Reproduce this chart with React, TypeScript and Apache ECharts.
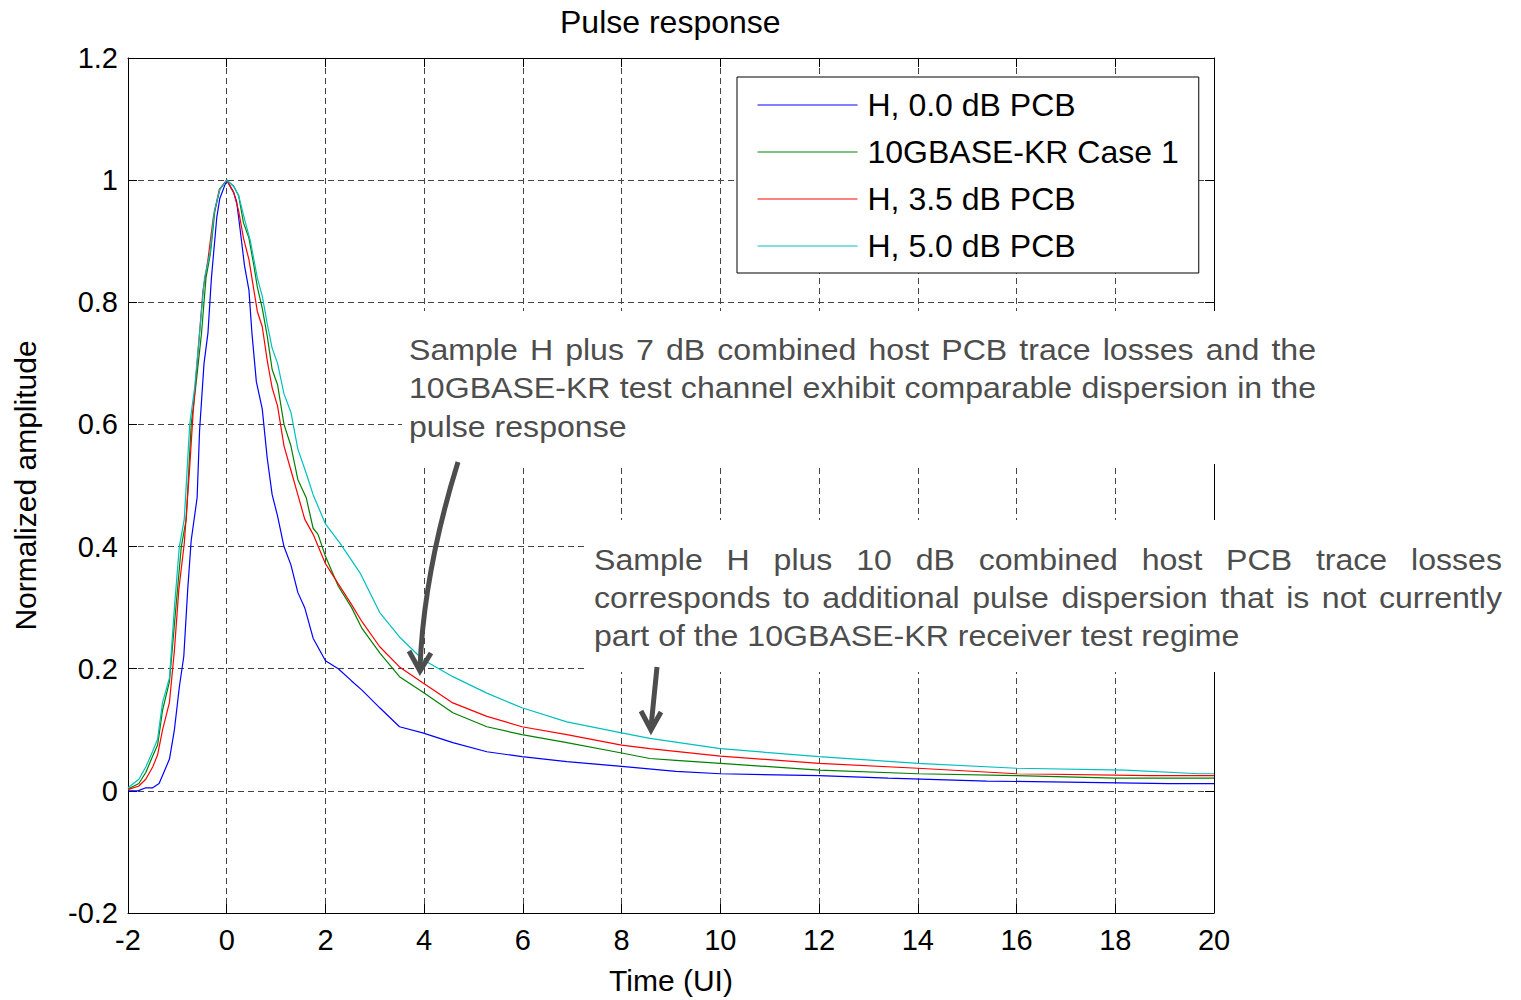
import React, { useEffect, useRef } from "react";
import * as echarts from "echarts";

const FONT = "'Liberation Sans', Arial, sans-serif";

const seriesNames = ["H, 0.0 dB PCB", "10GBASE-KR Case 1", "H, 3.5 dB PCB", "H, 5.0 dB PCB"];
const seriesColors = ["#0000ff", "#008000", "#ff0000", "#00bfbf"];

const tBlue = [-2, -1.8, -1.64, -1.5, -1.37, -1.16, -1.06, -0.96, -0.87, -0.79, -0.72, -0.6, -0.55, -0.46, -0.38, -0.31, -0.2, -0.14, 0, 0.14, 0.2, 0.27, 0.36, 0.45, 0.51, 0.6, 0.72, 0.82, 0.92, 1.03, 1.16, 1.3, 1.44, 1.58, 1.75, 2.0, 2.26, 2.53, 2.74, 3.1, 3.5, 3.97, 4.58, 5.27, 5.98, 6.89, 8, 9.1, 10, 12, 13.4, 15.4, 19.1, 20];
const vBlue = [0, 0, 0.005, 0.005, 0.012, 0.052, 0.1, 0.17, 0.22, 0.33, 0.41, 0.48, 0.59, 0.7, 0.75, 0.84, 0.94, 0.97, 1.0, 0.98, 0.965, 0.92, 0.86, 0.82, 0.75, 0.67, 0.625, 0.545, 0.485, 0.45, 0.4, 0.37, 0.325, 0.3, 0.25, 0.213, 0.2, 0.18, 0.165, 0.136, 0.105, 0.095, 0.079, 0.064, 0.056, 0.048, 0.04, 0.032, 0.028, 0.025, 0.021, 0.016, 0.012, 0.012];

const tGreen = [-2, -1.78, -1.64, -1.51, -1.4, -1.3, -1.16, -1.03, -0.92, -0.82, -0.72, -0.63, -0.51, -0.42, -0.33, -0.24, -0.14, 0, 0.14, 0.24, 0.34, 0.45, 0.55, 0.62, 0.72, 0.82, 0.92, 1.03, 1.16, 1.3, 1.44, 1.61, 1.75, 1.85, 2.0, 2.26, 2.53, 2.74, 3.1, 3.5, 3.97, 4.58, 5.27, 5.98, 6.89, 8, 8.57, 9.1, 10, 12, 14, 16, 18, 20];
const vGreen = [0.003, 0.012, 0.03, 0.055, 0.075, 0.132, 0.179, 0.3, 0.4, 0.445, 0.6, 0.66, 0.75, 0.84, 0.88, 0.95, 0.985, 1.0, 0.99, 0.975, 0.93, 0.905, 0.86, 0.825, 0.79, 0.745, 0.69, 0.665, 0.6, 0.565, 0.51, 0.48, 0.43, 0.42, 0.384, 0.335, 0.3, 0.266, 0.226, 0.187, 0.162, 0.128, 0.105, 0.092, 0.079, 0.062, 0.053, 0.05, 0.045, 0.034, 0.028, 0.025, 0.021, 0.021];

const tRed = [-2, -1.78, -1.64, -1.5, -1.4, -1.3, -1.16, -1.06, -0.97, -0.86, -0.75, -0.68, -0.58, -0.48, -0.38, -0.27, -0.15, 0, 0.14, 0.24, 0.34, 0.45, 0.55, 0.62, 0.72, 0.82, 0.92, 1.03, 1.16, 1.3, 1.44, 1.58, 1.75, 2.0, 2.26, 2.53, 2.74, 3.1, 3.5, 3.97, 4.58, 5.27, 5.98, 6.89, 8, 8.57, 10, 12, 14, 16, 18.7, 20];
const vRed = [0.002, 0.008, 0.019, 0.039, 0.059, 0.1, 0.145, 0.23, 0.33, 0.405, 0.53, 0.62, 0.72, 0.82, 0.87, 0.94, 0.985, 1.0, 0.98, 0.95, 0.905, 0.87, 0.82, 0.785, 0.76, 0.705, 0.66, 0.63, 0.565, 0.525, 0.485, 0.445, 0.42, 0.372, 0.339, 0.305, 0.277, 0.236, 0.203, 0.177, 0.144, 0.122, 0.105, 0.092, 0.075, 0.069, 0.057, 0.045, 0.037, 0.028, 0.025, 0.025];

const tCyan = [-2, -1.78, -1.64, -1.5, -1.4, -1.3, -1.16, -1.06, -0.96, -0.86, -0.75, -0.65, -0.55, -0.45, -0.34, -0.25, -0.14, 0, 0.14, 0.24, 0.38, 0.48, 0.62, 0.72, 0.82, 0.92, 1.03, 1.16, 1.3, 1.44, 1.61, 1.75, 2.0, 2.29, 2.7, 3.1, 3.5, 3.97, 4.58, 5.27, 5.98, 6.89, 8, 8.57, 10, 12, 14, 16, 18.2, 19.7, 20];
const vCyan = [0.005, 0.019, 0.039, 0.065, 0.085, 0.145, 0.185, 0.3, 0.4, 0.445, 0.6, 0.66, 0.75, 0.84, 0.88, 0.95, 0.985, 1.0, 0.99, 0.975, 0.93, 0.9, 0.84, 0.81, 0.765, 0.725, 0.7, 0.65, 0.62, 0.56, 0.52, 0.485, 0.437, 0.406, 0.357, 0.292, 0.252, 0.215, 0.187, 0.16, 0.136, 0.113, 0.095, 0.086, 0.069, 0.056, 0.045, 0.037, 0.034, 0.028, 0.028];

const seriesT = [tBlue, tGreen, tRed, tCyan];
const seriesV = [vBlue, vGreen, vRed, vCyan];

const xMin = -2, xMax = 20, xStep = 2;
const yMin = -0.2, yMax = 1.2, yStep = 0.2;

const titleText = "Pulse response";
const xName = "Time (UI)";
const yName = "Normalized amplitude";

const note1Lines = [
  "Sample H plus 7 dB combined host PCB trace losses and the",
  "10GBASE-KR test channel exhibit comparable dispersion in the",
  "pulse response",
];
const note2Lines = [
  "Sample H plus 10 dB combined host PCB trace losses",
  "corresponds to additional pulse dispersion that is not currently",
  "part of the 10GBASE-KR receiver test regime",
];

const NOTE_SIZE = 30;
const NOTE_SCALE = 1.07;
const NOTE_COLOR = "#4d4d4d";

function buildNote(lines: string[], left: number, right: number, ys: number[], measure: (s: string) => number) {
  const els: any[] = [];
  lines.forEach((line, i) => {
    const last = i === lines.length - 1;
    if (last) {
      els.push({
        type: "text", x: left, y: ys[i], scaleX: NOTE_SCALE, z: 110,
        style: { text: line, font: `${NOTE_SIZE}px ${FONT}`, fill: NOTE_COLOR, textAlign: "left", textVerticalAlign: "middle" },
      });
      return;
    }
    const words = line.split(" ");
    const widths = words.map((w) => measure(w) * NOTE_SCALE);
    const total = widths.reduce((a, b) => a + b, 0);
    const gap = (right - left - total) / (words.length - 1);
    let x = left;
    words.forEach((w, k) => {
      els.push({
        type: "text", x, y: ys[i], scaleX: NOTE_SCALE, z: 110,
        style: { text: w, font: `${NOTE_SIZE}px ${FONT}`, fill: NOTE_COLOR, textAlign: "left", textVerticalAlign: "middle" },
      });
      x += widths[k] + gap;
    });
  });
  return els;
}

export default function App() {
  const ref = useRef<HTMLDivElement>(null);
  useEffect(() => {
    if (!ref.current) return;
    const chart = echarts.init(ref.current, null, { renderer: "svg" });
    const cnv = document.createElement("canvas");
    const ctx = cnv.getContext("2d")!;
    ctx.font = `${NOTE_SIZE}px ${FONT}`;
    const measure = (s: string) => ctx.measureText(s).width;

    const fmt = (v: number) => String(Math.round(v * 10) / 10);
    const gridLine = { show: true, lineStyle: { color: "#444", type: [6, 4] as any, width: 1 } };
    const axisLine = { show: true, onZero: false, lineStyle: { color: "#000", width: 1 } };
    const tick = { show: true, inside: true, length: 9, lineStyle: { color: "#000" } };

    const graphics: any[] = [
      { type: "rect", z: 100, shape: { x: 402, y: 311, width: 920, height: 153 }, style: { fill: "#fff" } },
      { type: "rect", z: 100, shape: { x: 586, y: 520, width: 924, height: 152 }, style: { fill: "#fff" } },
      ...buildNote(note1Lines, 409, 1316, [350, 388, 427], measure),
      ...buildNote(note2Lines, 594, 1502, [560, 598, 636], measure),
      { type: "bezierCurve", z: 110, shape: { x1: 458, y1: 462, cpx1: 440, cpy1: 520, cpx2: 423, cpy2: 590, x2: 420, y2: 668 }, style: { stroke: NOTE_COLOR, lineWidth: 5, fill: null } },
      { type: "polyline", z: 110, shape: { points: [[409, 651], [420, 671], [431, 653]] }, style: { stroke: NOTE_COLOR, lineWidth: 5, fill: null } },
      { type: "line", z: 110, shape: { x1: 657, y1: 667, x2: 651, y2: 727 }, style: { stroke: NOTE_COLOR, lineWidth: 5 } },
      { type: "polyline", z: 110, shape: { points: [[641, 711], [651, 730], [661, 712]] }, style: { stroke: NOTE_COLOR, lineWidth: 5, fill: null } },
    ];

    chart.setOption({
      animation: false,
      backgroundColor: "#fff",
      textStyle: { fontFamily: FONT },
      title: {
        text: titleText, left: 555, top: 1,
        textStyle: { fontSize: 32, fontWeight: "normal", color: "#000", fontFamily: FONT },
      },
      grid: { left: 128, top: 58, right: 307, bottom: 87, containLabel: false },
      legend: {
        orient: "vertical", left: 737, top: 77,
        data: seriesNames,
        padding: [12, 20, 11, 20], itemGap: 15, itemWidth: 100, itemHeight: 16,
        backgroundColor: "#fff", borderColor: "#000", borderWidth: 1,
        itemStyle: { opacity: 0, borderWidth: 0 },
        lineStyle: { width: 1 },
        textStyle: { fontSize: 32, lineHeight: 30, color: "#000", fontFamily: FONT, padding: [0, 0, 0, 5] },
        z: 20,
      },
      xAxis: [
        {
          type: "value", min: xMin, max: xMax, interval: xStep, position: "bottom",
          name: xName, nameLocation: "middle", nameGap: 52,
          nameTextStyle: { fontSize: 30, color: "#000", fontFamily: FONT },
          axisLine, axisTick: tick, splitLine: gridLine,
          axisLabel: { fontSize: 29, color: "#000", margin: 12, formatter: fmt, fontFamily: FONT },
        },
        {
          type: "value", min: xMin, max: xMax, interval: xStep, position: "top",
          axisLine, axisTick: tick, splitLine: { show: false }, axisLabel: { show: false },
        },
      ],
      yAxis: [
        {
          type: "value", min: yMin, max: yMax, interval: yStep, position: "left",
          name: yName, nameLocation: "middle", nameGap: 88,
          nameTextStyle: { fontSize: 30, color: "#000", fontFamily: FONT },
          axisLine, axisTick: tick, splitLine: gridLine,
          axisLabel: { fontSize: 29, color: "#000", margin: 10, formatter: fmt, fontFamily: FONT },
        },
        {
          type: "value", min: yMin, max: yMax, interval: yStep, position: "right",
          axisLine, axisTick: tick, splitLine: { show: false }, axisLabel: { show: false },
        },
      ],
      series: seriesNames.map((name, i) => ({
        name, type: "line", xAxisIndex: 0, yAxisIndex: 0,
        symbol: "none", showSymbol: false,
        color: seriesColors[i],
        lineStyle: { color: seriesColors[i], width: 1.2 },
        data: seriesT[i].map((t, k) => [t, seriesV[i][k]]),
        z: 3,
      })),
      graphic: graphics,
    });
    return () => chart.dispose();
  }, []);
  return <div ref={ref} style={{ position: "absolute", left: 0, top: 0, width: 1521, height: 1000 }} />;
}
